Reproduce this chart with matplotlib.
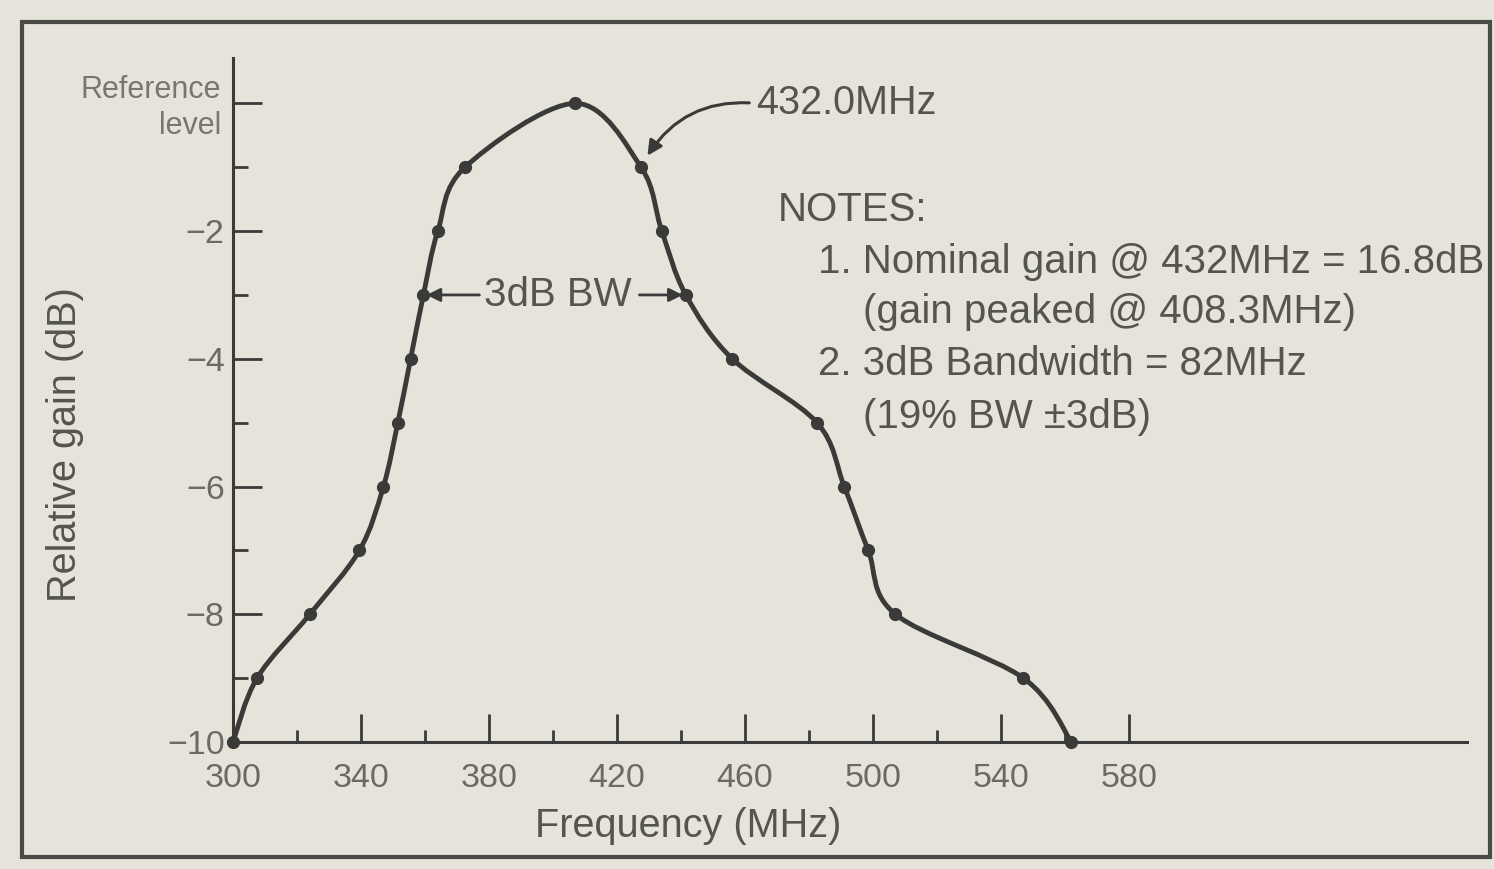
import matplotlib
matplotlib.use("Agg")
import matplotlib.pyplot as plt
from matplotlib.path import Path
from matplotlib.patches import PathPatch, Rectangle

freq_mhz = [300, 307.5, 324, 339.5, 347, 351.5, 355.5, 359.5, 364, 372.5, 407,
            427.5, 434, 441.5, 456, 482.5, 491, 498.5, 507, 547, 562]
gain_db = [-10, -9, -8, -7, -6, -5, -4, -3, -2, -1, 0,
           -1, -2, -3, -4, -5, -6, -7, -8, -9, -10]

x_major = [300, 340, 380, 420, 460, 500, 540, 580]
x_minor = [320, 360, 400, 440, 480, 520, 560]
y_major = [-10, -8, -6, -4, -2, 0]
y_minor = [-9, -7, -5, -3, -1]
y_labels = ["\u221210", "\u22128", "\u22126", "\u22124", "\u22122", ""]

notes = [
    ("NOTES:", 778, 210),
    ("1. Nominal gain @ 432MHz = 16.8dB", 818, 262),
    ("(gain peaked @ 408.3MHz)", 863, 312),
    ("2. 3dB Bandwidth = 82MHz", 818, 364),
    ("(19% BW \u00b13dB)", 863, 417),
]

W, H = 1494, 869
bg = "#e6e3da"
ink = "#3a3a38"
txt = "#55554f"
plt.rcParams["font.family"] = ["Liberation Sans", "DejaVu Sans"]

fig = plt.figure(figsize=(W / 100, H / 100), dpi=100, facecolor=bg)

def fx(px):
    return px / W

def fy(py):
    return 1 - py / H

# outer frame
fig.patches.append(Rectangle((fx(22), fy(857)), fx(1490) - fx(22), fy(22) - fy(857),
                             transform=fig.transFigure, fill=False,
                             edgecolor="#4a4a46", lw=3))

ax = fig.add_axes([fx(233), fy(742), fx(1467) - fx(233), fy(58) - fy(742)])
ax.set_facecolor("none")
ax.set_xlim(300, 685.6)
ax.set_ylim(-10, 0.71)
for s in ["top", "right"]:
    ax.spines[s].set_visible(False)
for s in ["left", "bottom"]:
    ax.spines[s].set_color(ink)
    ax.spines[s].set_linewidth(2.2)

ax.set_xticks(x_major)
ax.set_xticks(x_minor, minor=True)
ax.set_yticks(y_major)
ax.set_yticklabels(y_labels)
ax.set_yticks(y_minor, minor=True)
ax.tick_params(axis="both", which="both", direction="in", color=ink, width=2,
               labelcolor="#6a6a64")
ax.tick_params(axis="x", which="major", length=20, labelsize=24.5, pad=15)
ax.tick_params(axis="x", which="minor", length=9)
ax.tick_params(axis="y", which="major", length=21, labelsize=24.5, pad=6)
ax.tick_params(axis="y", which="minor", length=11)

# smooth curve through the measured points (Catmull-Rom -> cubic Bezier)
pts = list(zip(freq_mhz, gain_db))
verts = [pts[0]]
codes = [Path.MOVETO]
for i in range(len(pts) - 1):
    p0 = pts[max(i - 1, 0)]
    p1 = pts[i]
    p2 = pts[i + 1]
    p3 = pts[min(i + 2, len(pts) - 1)]
    c1 = (p1[0] + (p2[0] - p0[0]) / 6, p1[1] + (p2[1] - p0[1]) / 6)
    c2 = (p2[0] - (p3[0] - p1[0]) / 6, p2[1] - (p3[1] - p1[1]) / 6)
    verts += [c1, c2, p2]
    codes += [Path.CURVE4] * 3
ax.add_patch(PathPatch(Path(verts, codes), fill=False, edgecolor=ink, lw=3.5,
                       capstyle="round", joinstyle="round", zorder=3))
ax.plot(freq_mhz, gain_db, "o", color=ink, ms=8.5, zorder=4, clip_on=False)

# annotations
ax.annotate("432.0MHz", xy=(429.5, -0.82), xytext=(463.5, 0), fontsize=28.5,
            color=txt, va="center", ha="left",
            arrowprops=dict(arrowstyle="-|>", color=ink, lw=2.2,
                            mutation_scale=22, shrinkA=3, shrinkB=0,
                            relpos=(0, 0.5),
                            connectionstyle="arc3,rad=0.3"))
ax.text(401.5, -3, "3dB BW", fontsize=29, color=txt, ha="center", va="center")
ax.annotate("", xy=(360.5, -3), xytext=(377, -3),
            arrowprops=dict(arrowstyle="-|>", color=ink, lw=2, mutation_scale=20,
                            shrinkA=0, shrinkB=0))
ax.annotate("", xy=(440.5, -3), xytext=(427, -3),
            arrowprops=dict(arrowstyle="-|>", color=ink, lw=2, mutation_scale=20,
                            shrinkA=0, shrinkB=0))

fig.text(fx(221), fy(108), "Reference\nlevel", fontsize=22, color="#77776f",
         ha="right", va="center", linespacing=1.25)
fig.text(fx(65), fy(445), "Relative gain (dB)", fontsize=28.5, color=txt,
         rotation=90, ha="center", va="center")
fig.text(fx(688), fy(826), "Frequency (MHz)", fontsize=28.5, color=txt,
         ha="center", va="center")

for s, x, y in notes:
    fig.text(fx(x), fy(y), s, fontsize=29, color=txt, ha="left", va="center")

fig.savefig("out.png", dpi=100, facecolor=bg)
